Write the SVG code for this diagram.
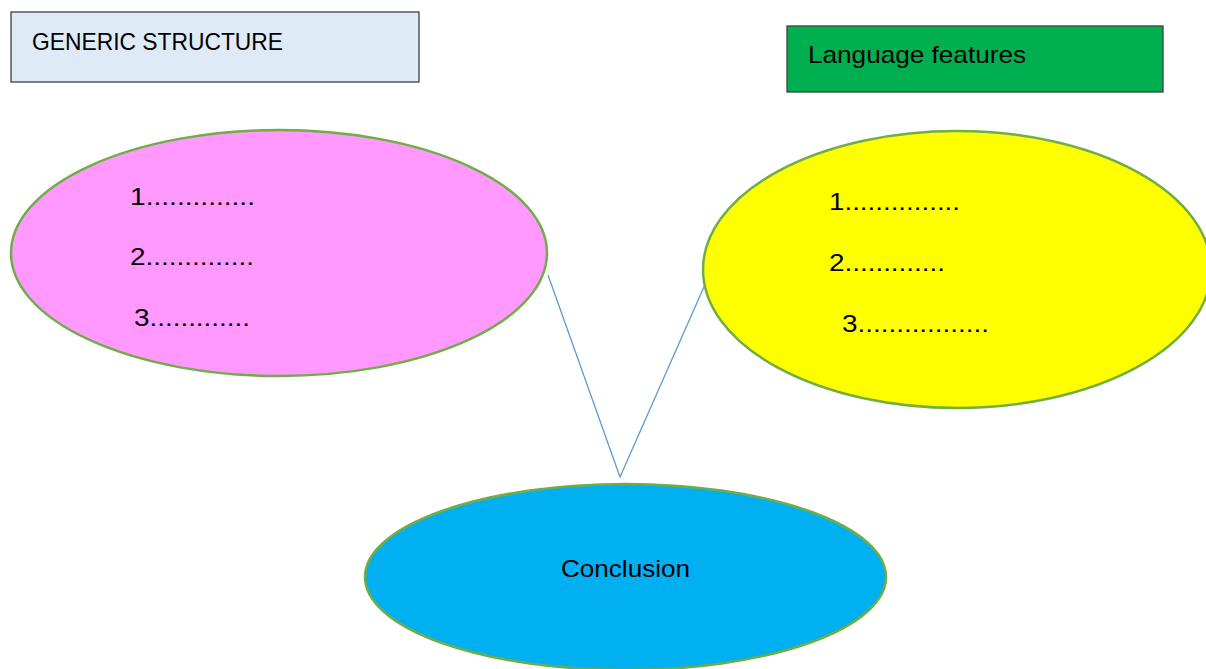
<svg xmlns="http://www.w3.org/2000/svg" width="1206" height="669" viewBox="0 0 1206 669">
<style>
text{font-family:"Liberation Sans",Arial,sans-serif;font-size:24px;fill:#000}
.box{stroke:#3f3f3f;stroke-width:1.3}
.ell{stroke:#70ad47;stroke-width:2.5}
.conn{stroke:#5b9bd5;stroke-width:1.3;fill:none}
</style>
<rect width="1206" height="669" fill="#fff"/>
<g id="generic-structure">
<rect class="box" x="11" y="12" width="408" height="70" fill="#deebf7"/>
<text x="32" y="50" textLength="251" lengthAdjust="spacingAndGlyphs">GENERIC STRUCTURE</text>
</g>
<g id="language-features">
<rect class="box" x="787" y="26" width="376" height="66" fill="#00b050"/>
<text x="808" y="63" textLength="218" lengthAdjust="spacingAndGlyphs">Language features</text>
</g>
<g id="connectors">
<polyline class="conn" points="548,275 620,477 707,280"/>
</g>
<g id="structure-ellipse">
<ellipse class="ell" cx="279" cy="253" rx="268" ry="123" fill="#ff99ff"/>
<text x="130" y="205" textLength="125" lengthAdjust="spacingAndGlyphs">1..............</text>
<text x="130" y="265" textLength="124" lengthAdjust="spacingAndGlyphs">2..............</text>
<text x="134" y="326" textLength="116" lengthAdjust="spacingAndGlyphs">3.............</text>
</g>
<g id="features-ellipse">
<ellipse class="ell" cx="957" cy="269.5" rx="254" ry="138.5" fill="#ffff00"/>
<text x="829" y="210" textLength="131" lengthAdjust="spacingAndGlyphs">1...............</text>
<text x="829" y="271" textLength="116" lengthAdjust="spacingAndGlyphs">2.............</text>
<text x="842" y="332" textLength="147" lengthAdjust="spacingAndGlyphs">3.................</text>
</g>
<g id="conclusion">
<ellipse class="ell" cx="625.5" cy="577" rx="260.5" ry="93" fill="#00b0f0"/>
<text x="561" y="577" textLength="129" lengthAdjust="spacingAndGlyphs">Conclusion</text>
</g>
</svg>
